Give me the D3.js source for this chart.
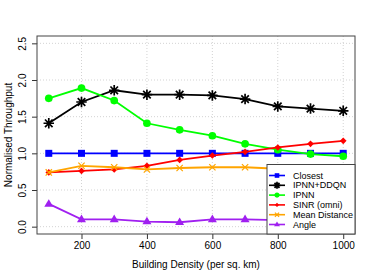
<!DOCTYPE html>
<html>
<head>
<meta charset="utf-8">
<script src="https://cdn.jsdelivr.net/npm/d3@7"></script>
<style>
  body { margin: 0; background: #fff; }
  svg text { font-family: "Liberation Sans", Arial, sans-serif; }
</style>
</head>
<body>
<div id="chart"></div>
<script>
// building density values
const density = [100, 200, 300, 400, 500, 600, 700, 800, 900, 1000];

const closest = [1.0, 1.0, 1.0, 1.0, 1.0, 1.0, 1.0, 1.0, 1.0, 1.0];
const ipnnDdqn = [1.41, 1.70, 1.86, 1.80, 1.80, 1.79, 1.74, 1.64, 1.61, 1.58];
const ipnn = [1.75, 1.89, 1.72, 1.41, 1.32, 1.24, 1.13, 1.05, 0.99, 0.96];
const sinr = [0.74, 0.76, 0.78, 0.83, 0.91, 0.97, 1.02, 1.08, 1.13, 1.17];
const meanDist = [0.74, 0.83, 0.81, 0.78, 0.80, 0.81, 0.81, 0.79, 0.78, 0.78];
const angle = [0.31, 0.10, 0.10, 0.07, 0.06, 0.10, 0.10, 0.09, 0.08, 0.08];

const seriesNames = ["Closest", "IPNN+DDQN", "IPNN", "SINR (omni)", "Mean Distance", "Angle"];
const seriesColors = ["#0000ff", "#000000", "#00ff00", "#ff0000", "#ffa500", "#a020f0"];
const seriesShapes = ["square", "star", "circle", "diamond", "cross", "triangle"];
const seriesValues = [closest, ipnnDdqn, ipnn, sinr, meanDist, angle];

const xTicks = [200, 400, 600, 800, 1000];
const yTicks = [0, 0.5, 1, 1.5, 2, 2.5];

const width = 374, height = 280;
const margin = { top: 36, right: 19, bottom: 46, left: 37 };

const svg = d3.select("#chart").append("svg")
    .attr("width", width)
    .attr("height", height);

const x = d3.scaleLinear().domain([64, 1036]).range([margin.left, width - margin.right]);
const y = d3.scaleLinear().domain([-0.1, 2.6]).range([height - margin.bottom, margin.top]);

// grid
svg.append("g").selectAll("line.gx")
    .data(xTicks).enter().append("line")
    .attr("x1", d => x(d)).attr("x2", d => x(d))
    .attr("y1", margin.top).attr("y2", height - margin.bottom)
    .attr("stroke", "#d3d3d3").attr("stroke-dasharray", "1,2");
svg.append("g").selectAll("line.gy")
    .data(yTicks).enter().append("line")
    .attr("x1", margin.left).attr("x2", width - margin.right)
    .attr("y1", d => y(d)).attr("y2", d => y(d))
    .attr("stroke", "#d3d3d3").attr("stroke-dasharray", "1,2");

// axes
const xAxis = svg.append("g")
    .attr("transform", `translate(0,${height - margin.bottom})`)
    .call(d3.axisBottom(x).tickValues(xTicks).tickSize(5).tickPadding(3).tickFormat(d3.format("d")));
xAxis.select(".domain").remove();
xAxis.selectAll("text").attr("font-size", "10px").attr("fill", "#000");
xAxis.selectAll("line").attr("stroke", "#333");

const yAxis = svg.append("g")
    .attr("transform", `translate(${margin.left},0)`)
    .call(d3.axisLeft(y).tickValues(yTicks).tickSize(5).tickFormat(d3.format(".1f")));
yAxis.select(".domain").remove();
yAxis.selectAll("line").attr("stroke", "#333");
yAxis.selectAll("text")
    .attr("font-size", "10px").attr("fill", "#000")
    .attr("text-anchor", "middle")
    .attr("x", 0).attr("y", 0).attr("dy", 0)
    .attr("dominant-baseline", "central")
    .attr("transform", "translate(-15,0) rotate(-90)");

// box
svg.append("rect")
    .attr("x", margin.left).attr("y", margin.top)
    .attr("width", width - margin.left - margin.right)
    .attr("height", height - margin.top - margin.bottom)
    .attr("fill", "none").attr("stroke", "#444");

// titles
svg.append("text")
    .attr("x", (margin.left + width - margin.right) / 2)
    .attr("y", 268)
    .attr("text-anchor", "middle")
    .attr("font-size", "10px")
    .text("Building Density (per sq. km)");
svg.append("text")
    .attr("transform", `translate(12,${(margin.top + height - margin.bottom) / 2}) rotate(-90)`)
    .attr("text-anchor", "middle")
    .attr("font-size", "10px")
    .text("Normalised Throughput");

function drawMarker(g, shape, color, s) {
    if (shape === "square") {
        g.append("rect").attr("x", -s).attr("y", -s).attr("width", 2 * s).attr("height", 2 * s).attr("fill", color);
    } else if (shape === "circle") {
        g.append("circle").attr("r", s * 1.1).attr("fill", color);
    } else if (shape === "diamond") {
        const r = s * 0.95;
        g.append("path").attr("d", `M0,${-r}L${r},0L0,${r}L${-r},0Z`).attr("fill", color);
    } else if (shape === "triangle") {
        const r = s * 1.35;
        g.append("path").attr("d", `M0,${-r}L${r * 0.95},${r * 0.6}L${-r * 0.95},${r * 0.6}Z`).attr("fill", color);
    } else if (shape === "cross") {
        const r = s * 0.9;
        g.append("path").attr("d", `M${-r},${-r}L${r},${r}M${-r},${r}L${r},${-r}`).attr("stroke", color).attr("stroke-width", 1.2);
    } else if (shape === "star") {
        const r = s * 1.5, d = r * 0.72;
        g.append("path")
            .attr("d", `M${-r},0L${r},0M0,${-r}L0,${r}M${-d},${-d}L${d},${d}M${-d},${d}L${d},${-d}`)
            .attr("stroke", color).attr("stroke-width", 1.7);
    }
}

const line = d3.line().x((d, i) => x(density[i])).y(d => y(d));

seriesValues.forEach((vals, k) => {
    svg.append("path")
        .datum(vals)
        .attr("d", line)
        .attr("fill", "none")
        .attr("stroke", seriesColors[k])
        .attr("stroke-width", 1.8);
    vals.forEach((v, i) => {
        const g = svg.append("g").attr("transform", `translate(${x(density[i])},${y(v)})`);
        drawMarker(g, seriesShapes[k], seriesColors[k], 3.5);
    });
});

// legend
const lg = svg.append("g");
lg.append("rect")
    .attr("x", 267).attr("y", 164.5)
    .attr("width", width - margin.right - 267).attr("height", height - margin.bottom - 164.5)
    .attr("fill", "#fff").attr("stroke", "#444");
seriesNames.forEach((name, k) => {
    const ly = 175.5 + k * 9.8;
    lg.append("line")
        .attr("x1", 269).attr("x2", 285).attr("y1", ly).attr("y2", ly)
        .attr("stroke", seriesColors[k]).attr("stroke-width", 1.6);
    const g = lg.append("g").attr("transform", `translate(277,${ly})`);
    drawMarker(g, seriesShapes[k], seriesColors[k], 2.3);
    lg.append("text")
        .attr("x", 293).attr("y", ly)
        .attr("dy", "0.35em")
        .attr("font-size", "9px")
        .text(name);
});
</script>
</body>
</html>
